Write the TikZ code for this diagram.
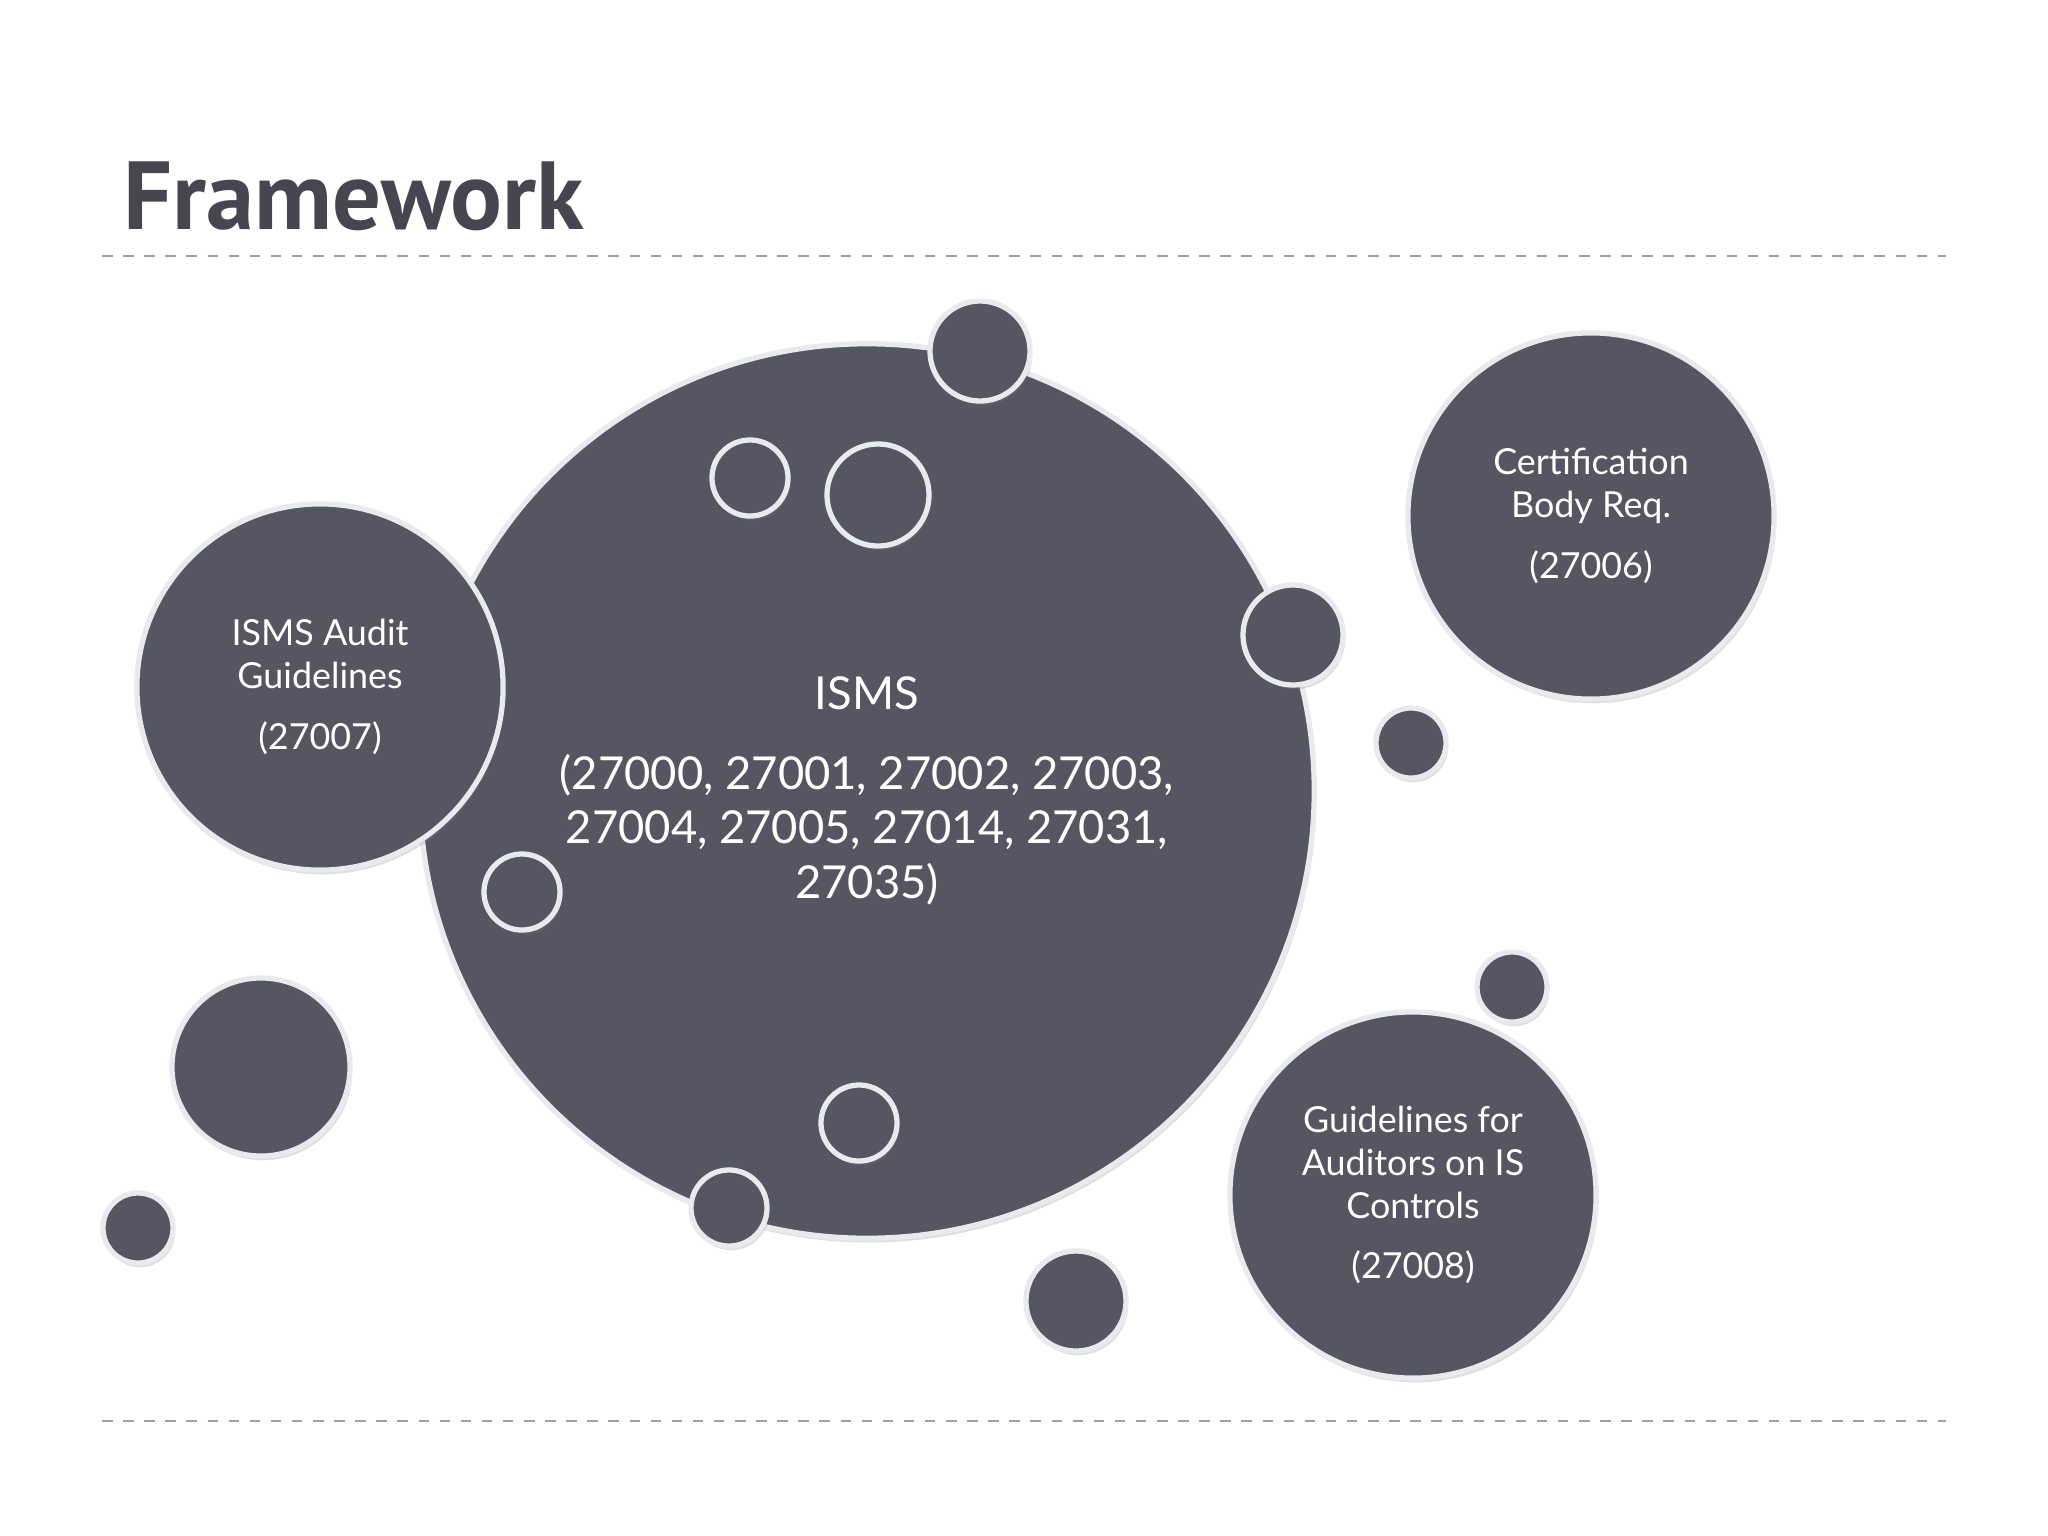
\documentclass[tikz,border=0pt]{standalone}
\usepackage{fontspec}
\setmainfont{Lato}
\newfontfamily\titlefont{PT Sans}
\usepackage{tikz}
\usetikzlibrary{shadows,positioning}
\definecolor{bubblefill}{RGB}{85,86,98}
\definecolor{bubbleedge}{RGB}{232,234,238}
\definecolor{titlegray}{RGB}{70,69,80}
\definecolor{rulegray}{RGB}{160,160,164}

\begin{document}
\begin{tikzpicture}[x=0.01cm, y=-0.01cm,
    bubble/.style={circle, draw=bubbleedge, fill=bubblefill, line width=1.5pt,
        text=white, align=center, inner sep=0pt,
        drop shadow={shadow xshift=0.6pt, shadow yshift=-1.2pt, opacity=0.25}},
    dot/.style={bubble, line width=1.5pt},
    sep line/.style={draw=rulegray, dashed, line width=0.6pt, dash pattern=on 3pt off 3pt}]
    \useasboundingbox[fill=white] (0,0) rectangle (2048,1536);

    % title and rules
    \node[anchor=base west, inner sep=0pt, text=titlegray,
          font=\titlefont\bfseries\fontsize{27.5}{30}\selectfont] (title) at (123,229) {Framework};
    \coordinate (topL) at (102,256);
    \coordinate (topR) at (1946,256);
    \coordinate (botL) at (102,1421);
    \coordinate (botR) at (1946,1421);
    \draw[sep line] (topL) -- (topR);
    \draw[sep line] (botL) -- (botR);

    % main bubbles
    \node[bubble, minimum size=8.94cm, font=\fontsize{12.9}{15.6}\selectfont] (isms) at (867,791)
        {ISMS\\[7pt](27000, 27001, 27002, 27003,\\27004, 27005, 27014, 27031,\\27035)};
    \node[dot, minimum size=1.0cm] (d1) at (980,351) {};
    \node[dot, minimum size=0.76cm] (d2) at (750,478) {};
    \node[dot, minimum size=1.02cm] (d3) at (878,495) {};
    \node[dot, minimum size=1.0cm] (d4) at (1293,635) {};
    \node[dot, minimum size=0.76cm] (d5) at (522,892) {};
    \node[dot, minimum size=0.76cm] (d6) at (859,1123) {};

    \node[bubble, minimum size=3.66cm, font=\fontsize{10.2}{12.2}\selectfont] (audit) at (320,687)
        {ISMS Audit\\Guidelines\\[5pt](27007)};
    \node[dot, minimum size=0.76cm] (d7) at (729,1208) {};
    \node[bubble, minimum size=3.66cm, font=\fontsize{10.2}{12.2}\selectfont] (cert) at (1591,516)
        {Certification\\Body Req.\\[5pt](27006)};
    \node[bubble, minimum size=3.66cm, font=\fontsize{10.2}{12.2}\selectfont] (auditors) at (1413,1195)
        {Guidelines for\\Auditors on IS\\Controls\\[5pt](27008)};

    % loose dots
    \node[dot, minimum size=0.70cm] (d8) at (1411,743) {};
    \node[dot, minimum size=1.78cm] (d9) at (261,1067) {};
    \node[dot, minimum size=0.70cm] (d10) at (138,1228) {};
    \node[dot, minimum size=1.0cm] (d11) at (1076,1301) {};
    \node[dot, minimum size=0.70cm] (d12) at (1512,987) {};
\end{tikzpicture}
\end{document}
